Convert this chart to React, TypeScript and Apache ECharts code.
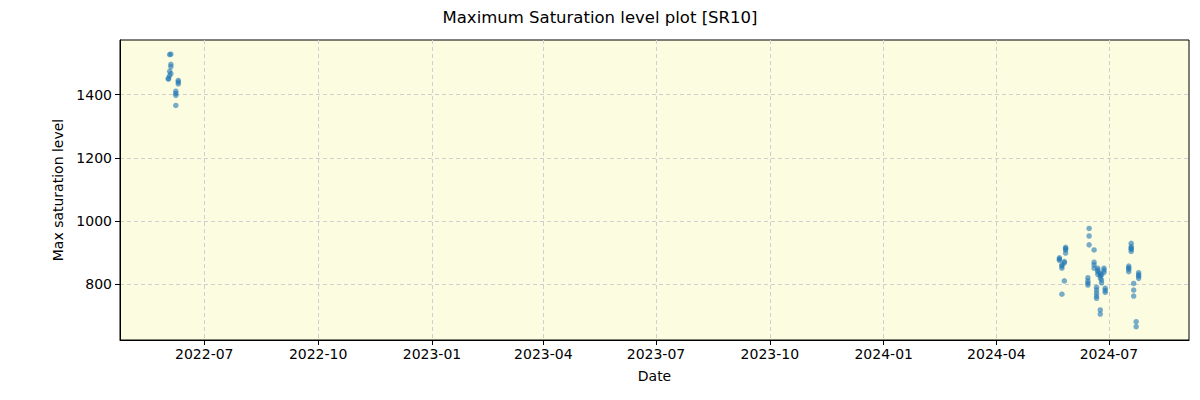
import React, { useEffect, useRef } from "react";
import * as echarts from "echarts";

const DAY = 86400000;

// Cluster data: [date, values...]
const dates1: string[] = ["2022-06-02", "2022-06-03", "2022-06-04", "2022-06-08", "2022-06-10"];
const values1: number[][] = [
  [1452, 1449],
  [1527, 1474, 1460],
  [1528, 1496, 1488, 1467],
  [1411, 1398, 1404, 1366],
  [1445, 1434, 1440],
];

const dates2: string[] = [
  "2024-05-22", "2024-05-24", "2024-05-26", "2024-05-27", "2024-06-14", "2024-06-15",
  "2024-06-19", "2024-06-21", "2024-06-22", "2024-06-24", "2024-06-25", "2024-06-27", "2024-06-28",
];
const values2: number[][] = [
  [880, 876, 884],
  [851, 858, 862, 769],
  [872, 868, 811],
  [917, 909, 913, 899],
  [821, 811, 798, 804],
  [977, 953, 925],
  [909, 870, 851, 862],
  [791, 782, 772, 763, 756],
  [851, 840, 832, 845],
  [719, 706, 835, 820, 828],
  [830, 814, 805],
  [851, 845, 838],
  [788, 775, 781],
];

const dates3: string[] = ["2024-07-17", "2024-07-19", "2024-07-21", "2024-07-23", "2024-07-25"];
const values3: number[][] = [
  [858, 848, 840, 852],
  [930, 919, 911, 904, 915],
  [803, 782, 763],
  [682, 666],
  [837, 830, 819, 826],
];

const xTickDates: string[] = [
  "2022-07-01", "2022-10-01", "2023-01-01", "2023-04-01", "2023-07-01",
  "2023-10-01", "2024-01-01", "2024-04-01", "2024-07-01",
];
const yTicks: number[] = [800, 1000, 1200, 1400];

function ts(d: string): number {
  const [y, m, dd] = d.split("-").map(Number);
  return Date.UTC(y, m - 1, dd);
}

function buildPoints(): [number, number][] {
  const out: [number, number][] = [];
  const groups: [string[], number[][]][] = [
    [dates1, values1],
    [dates2, values2],
    [dates3, values3],
  ];
  for (const [ds, vs] of groups) {
    ds.forEach((d, i) => vs[i].forEach((v) => out.push([ts(d), v])));
  }
  return out;
}

export default function App() {
  const ref = useRef<HTMLDivElement>(null);
  useEffect(() => {
    if (!ref.current) return;
    const chart = echarts.init(ref.current, null, { renderer: "svg" });
    const font = "DejaVu Sans";
    const xMin = ts("2022-07-01") - 68.1 * DAY;
    const xMax = ts("2024-07-01") + 64.7 * DAY;
    const xTicks = xTickDates.map(ts);
    chart.setOption({
      animation: false,
      backgroundColor: "#ffffff",
      textStyle: { fontFamily: font },
      title: {
        text: "Maximum Saturation level plot [SR10]",
        left: "center",
        top: 4,
        textStyle: { fontFamily: font, fontSize: 16.5, fontWeight: "normal", color: "#000" },
      },
      grid: {
        left: 120,
        top: 40,
        right: 11,
        bottom: 60,
        show: true,
        backgroundColor: "#fcfce1",
        borderColor: "#000",
        borderWidth: 1,
      },
      xAxis: {
        type: "value",
        min: xMin,
        max: xMax,
        name: "Date",
        nameLocation: "middle",
        nameGap: 29,
        nameTextStyle: { fontFamily: font, fontSize: 14, color: "#000" },
        axisLine: { show: true, lineStyle: { color: "#000" } },
        axisTick: {
          show: true,
          length: 5,
          lineStyle: { color: "#000" },
          customValues: xTicks,
        },
        axisLabel: {
          fontFamily: font,
          fontSize: 14,
          color: "#000",
          margin: 7,
          customValues: xTicks,
          formatter: (v: number) => {
            const d = new Date(v);
            return `${d.getUTCFullYear()}-${String(d.getUTCMonth() + 1).padStart(2, "0")}`;
          },
        },
        splitLine: { show: true, lineStyle: { color: "#cfcfcf", type: [4, 3], width: 1 } },
      },
      yAxis: {
        type: "value",
        min: 624,
        max: 1573,
        name: "Max saturation level",
        nameLocation: "middle",
        nameGap: 50,
        nameTextStyle: { fontFamily: font, fontSize: 14, color: "#000" },
        axisLine: { show: true, lineStyle: { color: "#000" } },
        axisTick: {
          show: true,
          length: 5,
          lineStyle: { color: "#000" },
          customValues: yTicks,
        },
        axisLabel: {
          fontFamily: font,
          fontSize: 14,
          color: "#000",
          margin: 8,
          customValues: yTicks,
          formatter: (v: number) => String(v),
        },
        splitLine: { show: true, lineStyle: { color: "#cfcfcf", type: [4, 3], width: 1 } },
      },
      series: [
        {
          type: "scatter",
          data: buildPoints(),
          symbolSize: 5.5,
          itemStyle: { color: "#1f77b4", opacity: 0.6 },
        },
      ],
    });
    return () => chart.dispose();
  }, []);
  return (
    <div
      ref={ref}
      style={{ position: "fixed", left: 0, top: 0, width: 1200, height: 400 }}
    />
  );
}
